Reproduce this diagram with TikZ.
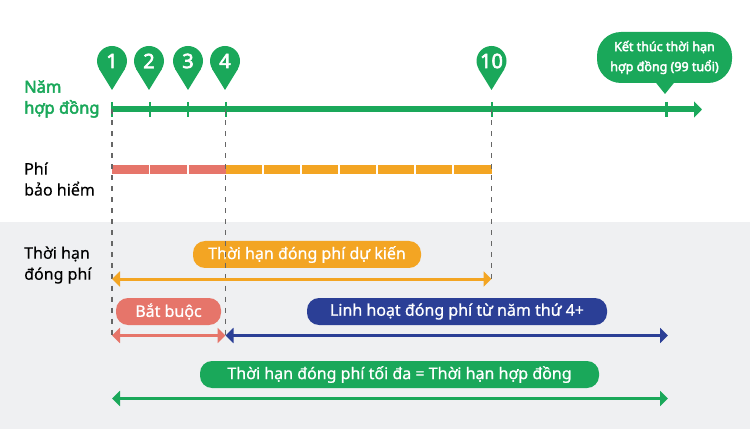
\documentclass[tikz,border=0pt]{standalone}
\usepackage{fontspec}
\setmainfont{Noto Sans}
\newfontfamily\heavyfont[FakeBold=3]{Noto Sans}
\newfontfamily\mediumfont[FakeBold=0.9]{Noto Sans}
\newfontfamily\lightfont[FakeBold=0.25]{Noto Sans}
\usepackage{xcolor}
\definecolor{colorContract}{HTML}{1AA85A}
\definecolor{colorPlanned}{HTML}{F3A523}
\definecolor{colorRequired}{HTML}{E6756A}
\definecolor{colorFlexible}{HTML}{2B3F96}
\definecolor{colorPanel}{HTML}{EFF0F2}
\usetikzlibrary{arrows.meta, calc, positioning}
\tikzset{
  yearpin/.style={circle, fill=colorContract, text=white, minimum size=30pt, inner sep=0pt, font=\heavyfont\fontsize{20}{20}\selectfont},
  pill/.style={rounded corners=12pt, minimum height=27pt, inner sep=0pt, text=white, font=\mediumfont\fontsize{16}{16}\selectfont},
  rowlabel/.style={anchor=west, align=left, inner sep=0pt, font=\lightfont\fontsize{16}{21}\selectfont},
  guide/.style={dash pattern=on 5pt off 6pt, line width=1.3pt, black!60},
  span/.style={line width=3pt, {Triangle[length=8pt,width=15pt]}-{Triangle[length=8pt,width=15pt]}},
  tick/.style={line width=2pt, colorContract},
  feebar/.style={line width=9pt}
}
\newcommand{\pintip}[1]{\fill[colorContract] (#1.-31) -- ($(#1)+(0,-29)$) -- (#1.211) -- cycle;}
\begin{document}
\begin{tikzpicture}[x=1pt, y=1pt]
\useasboundingbox (0,0) rectangle (750,429);
\fill[colorPanel] (0,0) rectangle (750,207);
% axis
\coordinate (a1) at (112,319.5);
\coordinate (a2) at (149.5,319.5);
\coordinate (a3) at (188,319.5);
\coordinate (a4) at (225.5,319.5);
\coordinate (a10) at (491.5,319.5);
\coordinate (aEnd) at (666,319.5);
\coordinate (aTip) at (702,319.5);
\draw[line width=6pt, colorContract, -{Triangle[length=8pt,width=16pt]}] (a1) -- (aTip);
\draw[tick] ($(a1)+(0,7.5)$) -- ($(a1)+(0,-7.5)$);
\draw[tick] ($(a2)+(0,7.5)$) -- ($(a2)+(0,-7.5)$);
\draw[tick] ($(a3)+(0,7.5)$) -- ($(a3)+(0,-7.5)$);
\draw[tick] ($(a4)+(0,7.5)$) -- ($(a4)+(0,-7.5)$);
\draw[tick] ($(a10)+(0,7.5)$) -- ($(a10)+(0,-7.5)$);
\draw[line width=3pt, colorContract] ($(aEnd)+(0,7.5)$) -- ($(aEnd)+(0,-7.5)$);
% pins
\node[yearpin] (p1) at (112,368) {1};
\node[yearpin] (p2) at (149,368) {2};
\node[yearpin] (p3) at (188,368) {3};
\node[yearpin] (p4) at (225,368) {4};
\node[yearpin] (p10) at (491.5,368) {10};
\pintip{p1}
\pintip{p2}
\pintip{p3}
\pintip{p4}
\pintip{p10}
% end of contract
\node[fill=colorContract, text=white, rounded corners=24pt, minimum width=135pt, minimum height=51pt, inner sep=0pt, align=center, font=\heavyfont\fontsize{12.5}{20}\selectfont] (endNote) at (664.5,371.5) {Kết thúc thời hạn\\hợp đồng (99 tuổi)};
\coordinate (endTip) at (665,335);
\fill[colorContract] ($(endNote.south)+(-9,1)$) -- (endTip) -- ($(endNote.south)+(10,1)$) -- cycle;
% row labels
\node[rowlabel, text=colorContract, font=\heavyfont\fontsize{16.5}{21}\selectfont] (lYear) at (24,330) {Năm\\hợp đồng};
\node[rowlabel] (lFee) at (24,250) {Phí\\bảo hiểm};
\node[rowlabel] (lTerm) at (24,164) {Thời hạn\\đóng phí};
% fee bar
\coordinate (fee) at (0,259.5);
\draw[feebar, colorRequired] (a1 |- fee) -- (a4 |- fee);
\draw[feebar, colorPlanned] (a4 |- fee) -- (a10 |- fee);
\draw[white, line width=1.5pt] (149.5,255) -- (149.5,264) (188,255) -- (188,264) (263,255) -- (263,264) (301,255) -- (301,264) (339,255) -- (339,264) (377,255) -- (377,264) (415,255) -- (415,264) (453,255) -- (453,264);
% pills
\node[pill, fill=colorPlanned, minimum width=228pt] (planned) at (307,174.5) {Thời hạn đóng phí dự kiến};
\node[pill, fill=colorRequired, minimum width=105pt] (required) at (168.5,117.5) {Bắt buộc};
\node[pill, fill=colorFlexible, minimum width=300pt] (flexible) at (457,117.5) {Linh hoạt đóng phí từ năm thứ 4+};
\node[pill, fill=colorContract, minimum width=399pt] (maximum) at (399.5,54.5) {Thời hạn đóng phí tối đa = Thời hạn hợp đồng};
% spans
\coordinate (sPlanned) at (0,150);
\coordinate (sRequired) at (0,93.5);
\coordinate (sMaximum) at (0,30.5);
\coordinate (sEnd) at (668,0);
\draw[guide] (a1) -- (a1 |- sRequired);
\draw[guide] (a4) -- (a4 |- sRequired);
\draw[guide] (a10) -- (a10 |- sPlanned);
\draw[span, colorPlanned] (a1 |- sPlanned) -- (a10 |- sPlanned);
\draw[span, colorRequired] (a1 |- sRequired) -- (a4 |- sRequired);
\draw[span, colorFlexible] (a4 |- sRequired) -- (sEnd |- sRequired);
\draw[span, colorContract] (a1 |- sMaximum) -- (sEnd |- sMaximum);
\end{tikzpicture}
\end{document}
